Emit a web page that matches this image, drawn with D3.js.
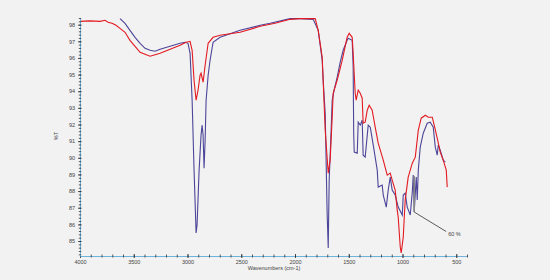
<!DOCTYPE html>
<html>
<head>
<meta charset="utf-8">
<script src="https://cdn.jsdelivr.net/npm/d3@7"></script>
<style>
  body { margin: 0; background: #f2f2f2; }
  svg { display: block; }
  text { font-family: "Liberation Sans", Arial, sans-serif; fill: #444; }
</style>
</head>
<body>
<svg id="svg" width="550" height="280"></svg>
<script>
// spectrum data: [wavenumber, %T]
const redSpectrum = [
  [4000, 98.2], [3907, 98.23], [3814, 98.2], [3767, 98.26], [3739, 98.14], [3702, 98.08],
  [3665, 97.96], [3628, 97.78], [3581, 97.54], [3535, 97.06], [3488, 96.7], [3441, 96.34],
  [3395, 96.22], [3348, 96.1], [3255, 96.28], [3162, 96.52], [3069, 96.76], [3013, 96.94],
  [2976, 97.0], [2957, 96.46], [2939, 94.66], [2920, 93.46], [2902, 94.06], [2883, 94.96],
  [2874, 95.08], [2855, 94.54], [2836, 95.56], [2808, 96.88], [2762, 97.24], [2697, 97.36],
  [2511, 97.54], [2324, 97.9], [2231, 98.02], [2185, 98.08], [2045, 98.32], [1952, 98.36],
  [1812, 98.36], [1784, 97.66], [1747, 96.04], [1738, 94.66], [1719, 91.66], [1691, 89.08],
  [1673, 89.86], [1654, 92.44], [1645, 93.88], [1608, 94.66], [1561, 95.86], [1515, 97.24],
  [1496, 97.48], [1468, 97.24], [1459, 96.28], [1440, 93.88], [1431, 93.46], [1412, 94.06],
  [1393, 93.88], [1375, 93.58], [1366, 92.08], [1347, 92.14], [1328, 92.86], [1310, 93.16],
  [1282, 92.86], [1254, 91.84], [1226, 90.88], [1179, 89.86], [1142, 88.96], [1114, 89.08],
  [1096, 88.66], [1068, 88.06], [1049, 86.86], [1040, 86.44], [1021, 84.64], [1012, 84.28],
  [993, 85.24], [975, 87.46], [947, 88.84], [909, 89.68], [881, 90.04], [853, 91.66],
  [826, 92.38], [788, 92.56], [760, 92.44], [723, 92.44], [705, 91.96], [677, 91.18],
  [649, 90.34], [621, 89.86], [593, 89.26], [584, 88.24]
]

const blueSpectrum = [
  [3628, 98.36], [3581, 98.08], [3535, 97.66], [3488, 97.24], [3441, 96.88], [3395, 96.58],
  [3348, 96.46], [3302, 96.4], [3255, 96.52], [3162, 96.7], [3069, 96.88], [3023, 96.94],
  [2995, 96.88], [2976, 96.28], [2957, 93.46], [2939, 89.26], [2920, 85.48], [2911, 85.96],
  [2892, 89.26], [2874, 91.36], [2864, 91.96], [2855, 91.36], [2846, 89.38], [2836, 91.06],
  [2827, 93.46], [2808, 94.96], [2790, 95.86], [2762, 96.94], [2697, 97.24], [2511, 97.66],
  [2324, 97.96], [2231, 98.08], [2045, 98.36], [1952, 98.36], [1831, 98.32], [1784, 97.66],
  [1747, 95.86], [1738, 94.66], [1719, 92.68], [1701, 86.68], [1691, 84.58], [1682, 88.66],
  [1664, 91.66], [1654, 93.46], [1636, 94.06], [1608, 94.84], [1580, 95.74], [1552, 96.46],
  [1515, 97.06], [1505, 97.18], [1468, 97.06], [1459, 95.44], [1454, 91.48], [1449, 90.34],
  [1421, 90.28], [1412, 92.14], [1393, 91.96], [1375, 92.26], [1366, 90.16], [1347, 90.04],
  [1319, 91.96], [1300, 91.84], [1272, 90.76], [1235, 89.26], [1226, 88.24], [1189, 88.36],
  [1179, 87.76], [1151, 87.04], [1133, 88.06], [1114, 88.84], [1096, 88.06], [1068, 87.76],
  [1040, 87.04], [1002, 86.56], [993, 87.76], [975, 87.88], [956, 87.04], [928, 86.56],
  [909, 87.94], [900, 88.96], [891, 86.74], [872, 88.84], [863, 87.46], [853, 89.26],
  [835, 90.64], [807, 91.48], [770, 92.08], [742, 92.14], [714, 91.84], [695, 90.64],
  [677, 90.16], [667, 90.76], [649, 90.46], [621, 89.86], [602, 89.74]
]

const xTicks = [4000, 3500, 3000, 2500, 2000, 1500, 1000, 500]
const yTicks = [98, 97, 96, 95, 94, 93, 92, 91, 90, 89, 88, 87, 86, 85]

// marker on the blue trace and where its label sits
const annotation = {wn: 891, top: 88.9, bottom: 86.74, labelWn: 575, labelT: 85.45, text: "60 %"}

const svg = d3.select("#svg")
const plotLeft = 80, plotRight = 467, plotTop = 18, plotBottom = 256

const x = d3.scaleLinear().domain([4000, 400]).range([plotLeft, plotRight])
const y = d3.scaleLinear().domain([84.1, 98.4]).range([plotBottom, plotTop])

svg.append("defs").append("clipPath").attr("id", "plot")
  .append("rect").attr("x", plotLeft).attr("y", plotTop - 1)
  .attr("width", plotRight - plotLeft).attr("height", plotBottom - plotTop + 1)

const line = d3.line().x(d => x(d[0])).y(d => y(d[1]))

const traces = svg.append("g").attr("clip-path", "url(#plot)")
traces.append("path").datum(blueSpectrum)
  .attr("fill", "none").attr("stroke", "#4d4599").attr("stroke-width", 1.1).attr("d", line)
traces.append("path").datum(redSpectrum)
  .attr("fill", "none").attr("stroke", "#e31a22").attr("stroke-width", 1.1).attr("d", line)

// annotation
svg.append("line")
  .attr("x1", x(annotation.wn)).attr("x2", x(annotation.wn))
  .attr("y1", y(annotation.top)).attr("y2", y(annotation.bottom))
  .attr("stroke", "#888").attr("stroke-width", 1.6)
svg.append("line")
  .attr("x1", x(annotation.wn)).attr("y1", y(annotation.bottom))
  .attr("x2", x(annotation.labelWn) - 2).attr("y2", y(annotation.labelT) - 2)
  .attr("stroke", "#333").attr("stroke-width", 0.8)
svg.append("text")
  .attr("x", x(annotation.labelWn)).attr("y", y(annotation.labelT) + 2)
  .attr("font-size", 5.5).text(annotation.text)

// axes
function styleAxis(g) {
  g.select(".domain").attr("stroke", "#6db3dc").attr("stroke-width", 1)
  g.selectAll(".tick line").attr("stroke", "#333").attr("stroke-width", 0.8)
  g.selectAll(".tick text").attr("font-size", 5.5).attr("fill", "#444")
}

const xMinor = svg.append("g").attr("transform", `translate(0,${plotBottom})`)
  .call(d3.axisBottom(x).tickValues(d3.range(400, 4001, 100)).tickSize(1.5).tickFormat("").tickSizeOuter(0))
xMinor.call(styleAxis)
xMinor.selectAll(".tick line").attr("y1", -1.5)

const xAxis = svg.append("g").attr("transform", `translate(0,${plotBottom})`)
  .call(d3.axisBottom(x).tickValues(xTicks).tickFormat(d3.format("d")).tickSize(2).tickPadding(2.5).tickSizeOuter(0))
xAxis.call(styleAxis)
xAxis.select(".domain").remove()
xAxis.selectAll(".tick line").attr("y1", -2)

const yMinor = svg.append("g").attr("transform", `translate(${plotLeft},0)`)
  .call(d3.axisLeft(y).tickValues(d3.range(84.2, 98.4, 0.2)).tickSize(1.2).tickFormat("").tickSizeOuter(0))
yMinor.call(styleAxis)
yMinor.selectAll(".tick line").attr("x1", 1.2)

const yAxis = svg.append("g").attr("transform", `translate(${plotLeft},0)`)
  .call(d3.axisLeft(y).tickValues(yTicks).tickFormat(d3.format("d")).tickSize(2).tickPadding(3).tickSizeOuter(0))
yAxis.call(styleAxis)
yAxis.select(".domain").remove()
yAxis.selectAll(".tick line").attr("x1", 1.5)

svg.append("text")
  .attr("x", 274).attr("y", 270).attr("text-anchor", "middle")
  .attr("font-size", 5.5).text("Wavenumbers (cm-1)")

svg.append("text")
  .attr("transform", "translate(58,136) rotate(-90)").attr("text-anchor", "middle")
  .attr("font-size", 5.5).text("%T")
</script>
</body>
</html>
